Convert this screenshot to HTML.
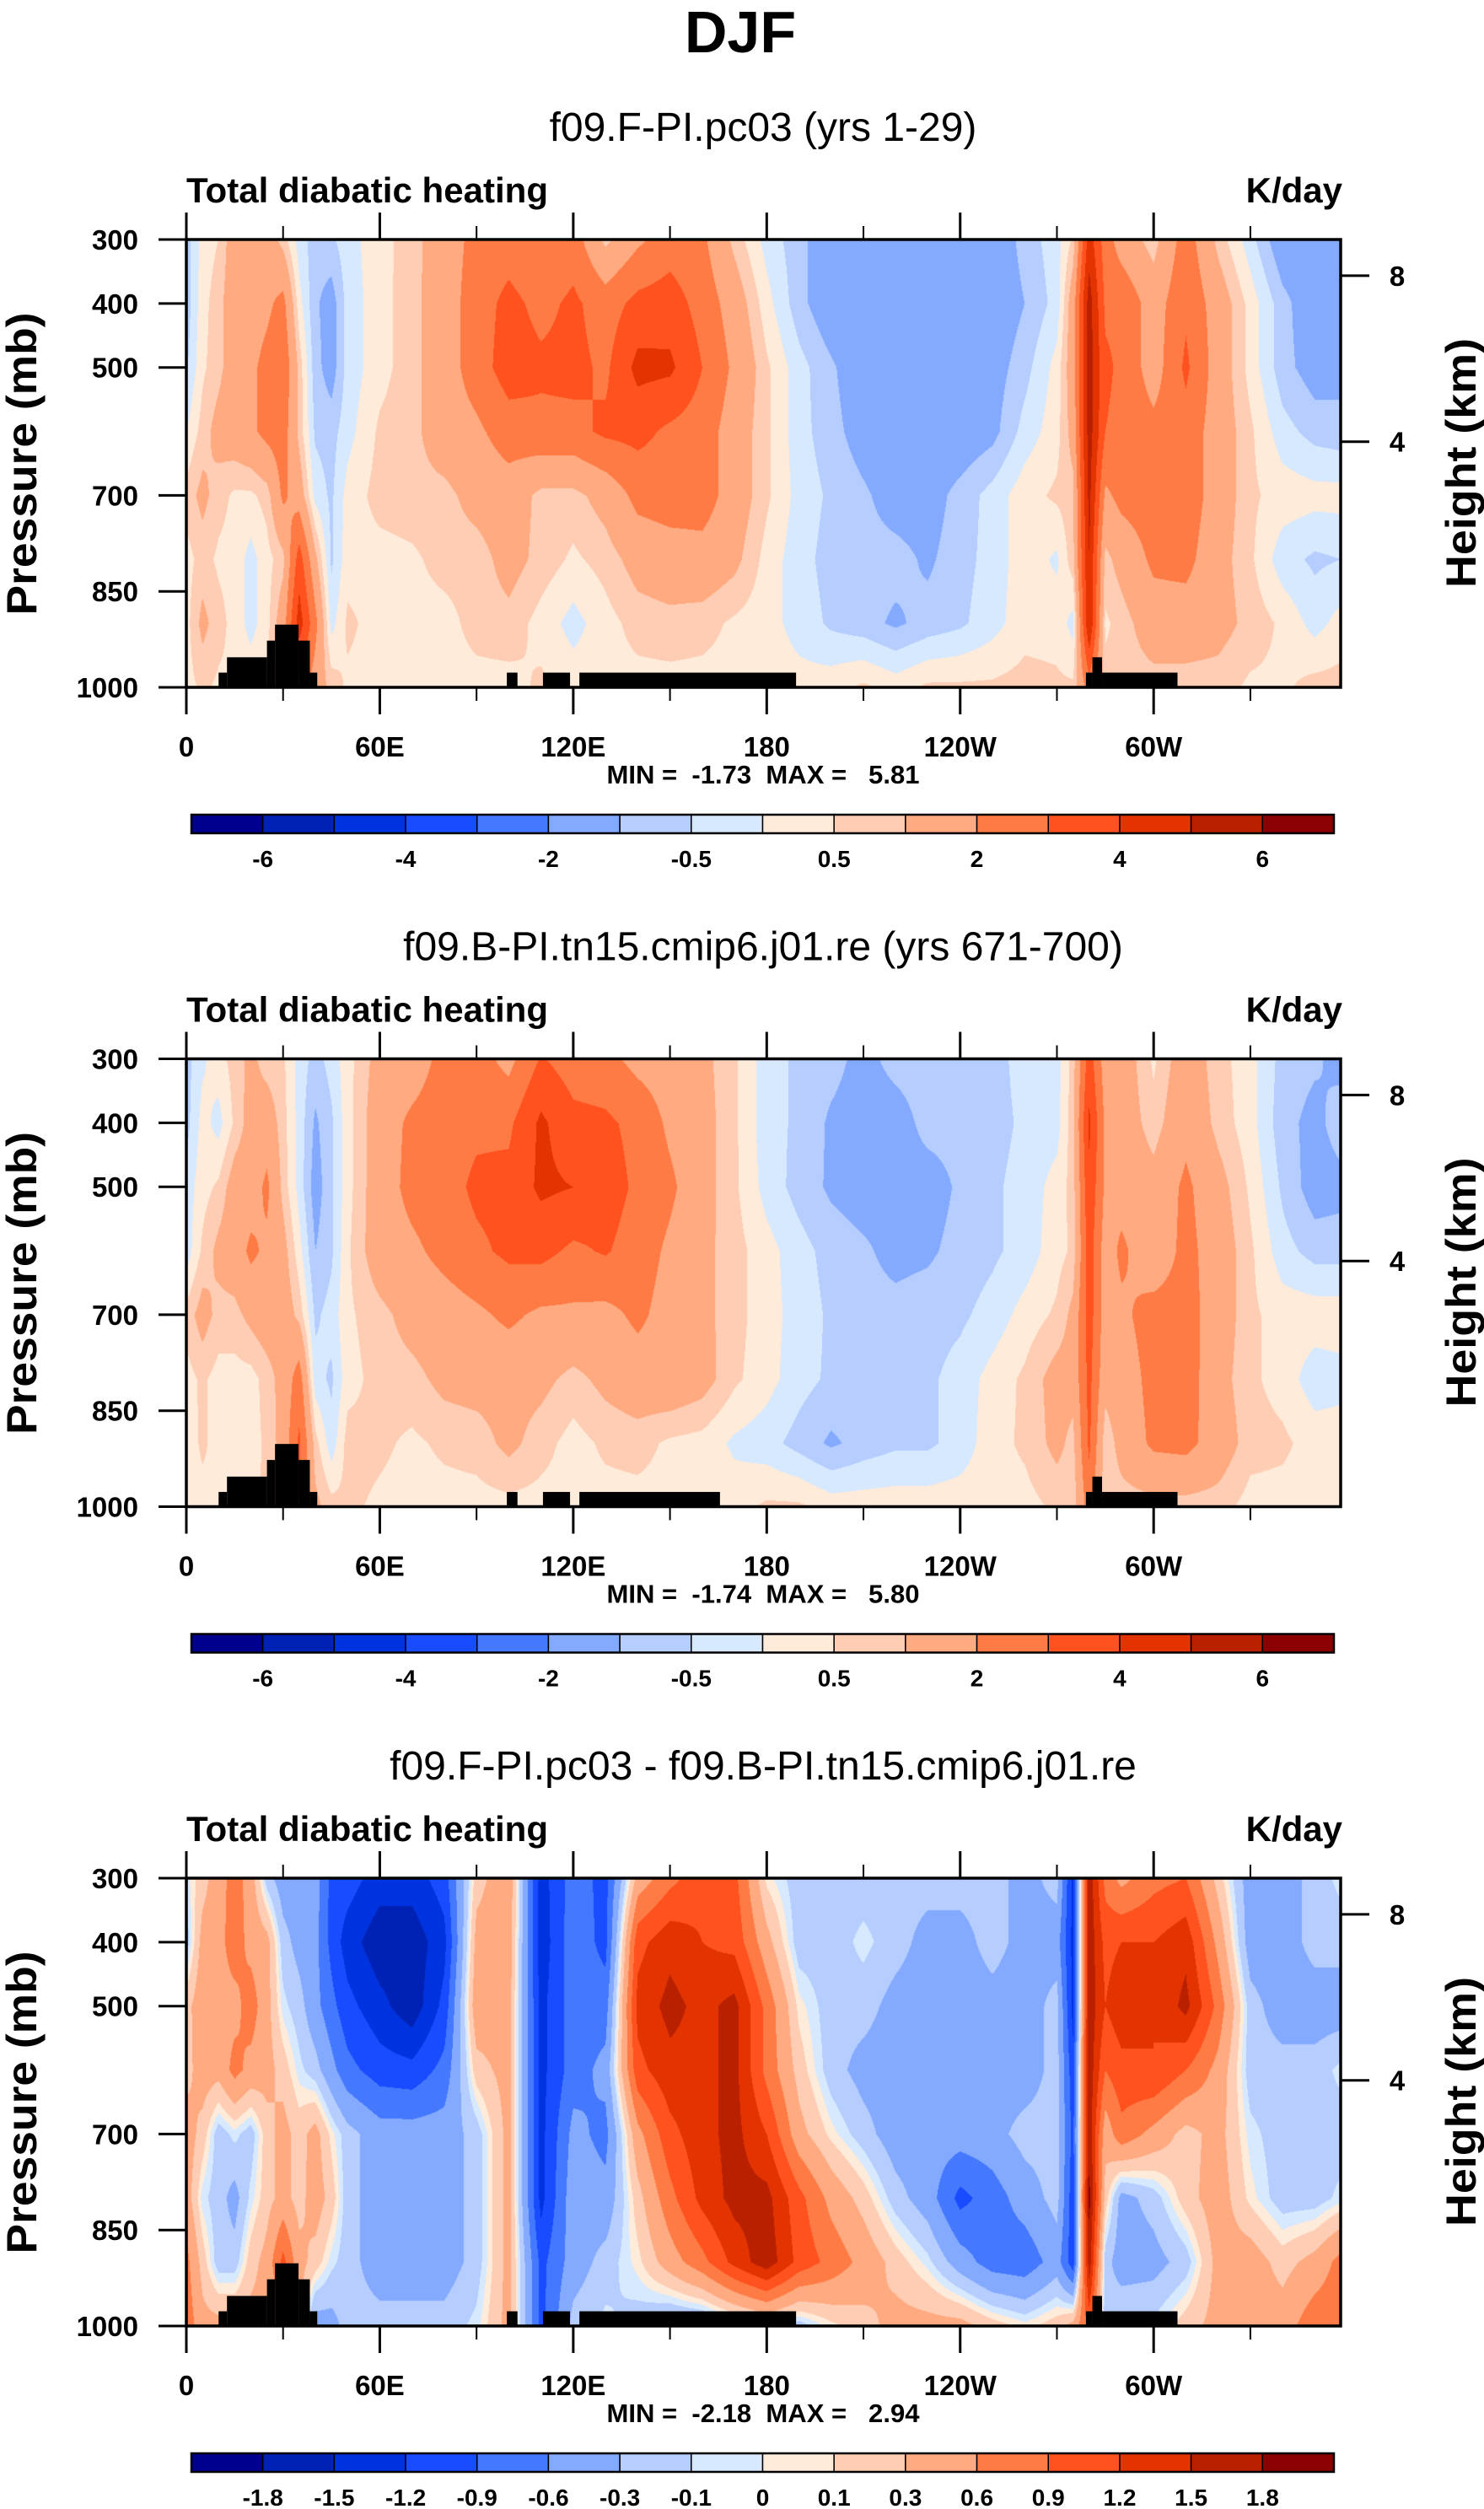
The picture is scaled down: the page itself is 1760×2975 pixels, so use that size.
<!DOCTYPE html>
<html><head><meta charset="utf-8"><title>DJF Total diabatic heating</title>
<style>
html,body{margin:0;padding:0;background:#fff;}
#page{position:relative;width:1760px;height:2975px;overflow:hidden;background:#fff;}
canvas{position:absolute;left:221px;}
svg{position:absolute;left:0;top:0;}
text{font-family:"Liberation Sans",Arial,sans-serif;}
</style></head>
<body>
<div id="page">
<canvas id="c0" width="1369" height="531" style="top:284px"></canvas>
<canvas id="c1" width="1369" height="531" style="top:1255.5px"></canvas>
<canvas id="c2" width="1369" height="531" style="top:2227px"></canvas>
<svg id="svg" width="1760" height="2975" viewBox="0 0 1760 2975">
<text x="878" y="62" text-anchor="middle" font-size="70" font-weight="bold">DJF</text>
</svg>
</div>
<script>
// ---- data ----
const lonNodes=[0,5,10,15,20,25,30,35,40,45,50,60,70,80,90,100,110,120,130,140,150,160,170,180,190,200,210,220,230,240,250,260,270,275,280,285,290,300,310,320,330,340,350,358];
const presNodes=[300,400,500,600,700,800,900,1000];
const fieldF=[
[-0.75,0.2,0.5,1.5,1.5,1.5,0.75,-0.25,-0.75,-0.6,-0.2, 0.3,0.75,1.5,2.3,2.5,2.0,2.5,0.8,1.8,2.5,2.2,0.8,-0.2, -0.8,-1.5,-1.5,-1.5,-1.5,-1.5,-1.5,-0.8,-0.2, 0.6,4.5,2.5,1.5,0.7,2.5,0.8,-0.3,-1.5,-1.5,-1.5],
[-0.8,0.3,0.8,1.5,1.5,1.8,2.3,0.2,-0.9,-1.3,-0.3, 0.3,0.8,1.5,2.5,3.3,2.7,3.2,2.5,3.3,3.5,2.6,1.5,0.2, -0.8,-1.5,-1.5,-1.5,-1.5,-1.5,-1.5,-1.0,-0.3, 1.5,5.5,2.8,2.8,1.5,2.8,1.5,0.3,-0.8,-1.5,-1.5],
[-0.6,0.4,0.8,1.5,1.8,2.3,2.8,0.8,-0.8,-1.3,-0.3, 0.3,0.8,1.5,2.5,3.5,3.2,3.3,2.8,4.3,4.2,3.0,1.8,0.6, -0.3,-0.9,-1.5,-1.5,-1.5,-1.5,-1.3,-0.7,0.2, 1.5,5.5,3.2,2.8,1.5,3.2,1.5,0.3,-0.8,-1.3,-1.2],
[0.0,0.7,1.3,1.5,1.8,2.3,2.5,0.8,-0.6,-0.7,-0.2, 0.6,0.8,1.5,1.8,2.5,2.7,2.7,3.2,3.3,2.8,2.5,1.5,0.6, -0.3,-0.8,-1.3,-1.5,-1.5,-1.5,-1.2,-0.3,0.3, 1.3,5.5,3.0,2.7,2.3,2.6,1.5,0.6,-0.3,-0.7,-0.8],
[0.7,1.2,0.7,0.4,0.4,0.7,2.2,1.5,-0.2,-0.6,0.2, 0.7,0.8,0.8,1.3,1.5,0.8,0.8,1.3,2.3,2.5,2.5,1.5,0.6, -0.2,-0.6,-0.9,-1.3,-1.3,-0.8,-0.3,0.3,0.6, 0.8,5.3,1.8,2.3,2.5,2.6,1.5,0.6,0.3,0.2,0.2],
[0.3,0.7,0.4,0.3,-0.2,0.3,0.8,3.5,1.2,-0.6,0.3, 0.3,0.4,0.7,0.7,1.3,0.8,0.4,0.7,1.3,1.5,1.6,1.2,0.3, -0.3,-0.7,-0.8,-0.8,-1.1,-0.7,-0.3,0.3,-0.1, 0.8,5.0,0.8,1.3,2.2,2.3,1.3,0.6,-0.3,-0.6,-0.5],
[0.3,1.2,0.7,0.3,-0.2,0.3,1.5,4.5,2.3,-0.2,0.6, 0.3,0.3,0.3,0.7,0.8,0.3,-0.2,0.3,0.7,0.8,0.7,0.4,0.2, -0.2,-0.6,-0.8,-1.1,-0.8,-0.6,-0.2,0.3,0.3, -0.2,5.0,0.4,0.7,1.5,1.5,1.3,0.8,0.4,-0.2,0.2],
[0.3,0.6,0.4,0.4,0.4,0.6,1.5,2.5,1.5,0.8,0.4, 0.3,0.3,0.3,0.3,0.3,0.6,0.3,0.3,0.3,0.3,0.3,0.3,0.3, 0.2,0.3,0.6,0.3,0.6,0.6,0.6,0.7,0.6, 0.6,2.5,0.7,0.7,0.7,0.7,0.7,0.4,0.4,0.7,0.7]
];
const fieldB=[
[-0.7,-0.1,0.3,0.7,1.2,0.7,0.6,-0.2,-0.7,-0.3,0.3, 1.3,1.5,2.3,2.4,1.7,3.1,2.5,2.3,1.7,1.5,1.2,0.6,-0.3, -0.6,-0.8,-1.2,-0.8,-0.7,-0.7,-0.7,-0.3,-0.2, 0.7,3.5,1.5,1.5,0.4,1.5,0.7,0.2,-0.7,-0.9,-1.2],
[-0.7,0.2,-0.2,0.6,1.3,1.5,0.7,-0.2,-1.1,-0.6,0.3, 1.5,2.2,2.5,2.8,2.8,4.2,3.3,3.2,2.7,1.8,1.3,0.6,-0.3, -0.6,-1.1,-1.3,-1.3,-0.8,-0.8,-0.7,-0.4,-0.2, 0.8,4.2,1.8,1.5,0.7,1.7,0.8,0.2,-0.8,-1.2,-0.7],
[-0.3,0.3,0.6,1.4,1.5,2.2,0.8,-0.2,-1.3,-0.6,0.3, 1.5,2.3,2.6,3.2,3.3,4.2,4.0,3.5,2.8,2.2,1.3,0.6,-0.2, -0.7,-1.1,-1.3,-1.2,-1.3,-0.9,-0.6,-0.3,0.2, 0.7,3.8,1.8,1.6,1.3,2.2,1.3,0.4,-0.6,-1.3,-1.2],
[-0.3,0.6,1.2,1.5,2.2,1.8,1.3,0.2,-1.0,-0.6,0.4, 1.5,1.8,2.3,2.8,3.2,3.3,2.8,3.1,2.5,1.8,1.2,0.7,0.2, -0.3,-0.7,-0.9,-1.2,-1.1,-0.8,-0.6,-0.3,0.3, 0.6,3.5,1.5,2.2,1.3,2.3,1.5,0.6,-0.3,-0.7,-0.7],
[0.7,1.3,0.8,0.8,1.2,1.5,1.5,0.8,-0.6,-0.3,0.4, 0.8,1.3,1.5,1.8,2.2,1.8,1.8,1.7,2.2,1.6,1.2,0.7,0.2, -0.2,-0.6,-0.8,-0.8,-0.7,-0.6,-0.3,0.2,0.6, 1.2,3.5,1.5,1.8,2.4,2.4,1.5,0.6,0.3,0.3,0.3],
[0.3,0.6,0.3,0.3,0.3,0.7,1.3,2.5,-0.3,-0.6,0.3, 0.7,0.8,1.2,1.3,1.3,1.2,0.8,1.2,1.5,1.6,1.3,0.6,0.2, -0.3,-0.6,-0.6,-0.7,-0.6,-0.3,0.2,0.6,1.3, 1.3,3.3,1.3,1.5,2.3,2.5,1.3,0.6,0.3,-0.3,-0.2],
[0.2,0.6,0.3,0.3,0.3,0.6,1.3,3.2,0.7,-0.3,0.7, 0.6,0.4,0.6,0.7,1.2,0.7,0.3,0.6,0.7,0.4,0.3,-0.1,-0.3, -0.7,-1.1,-0.8,-0.6,-0.6,-0.3,0.3,0.6,1.2, 0.8,3.2,0.6,1.3,2.2,2.3,1.5,0.7,0.6,0.3,0.3],
[0.3,0.3,0.4,0.4,0.4,0.6,1.5,3.0,1.2,0.7,0.6, 0.4,0.3,0.3,0.3,0.3,0.3,0.3,0.3,0.3,0.3,0.3,0.3,0.6, 0.6,0.3,0.3,0.3,0.3,0.3,0.3,0.3,0.6, 0.6,2.5,0.6,0.7,0.7,0.7,0.7,0.3,0.3,0.3,0.3]
];
const fieldDiff=[
[-0.05,0.2,0.45,0.75,0.45,-0.2,-0.45,-0.45,-0.45,-1.0,-1.05, -1.35,-1.35,-1.05,0.2,0.5,-1.35,-0.75,-1.0,0.4,0.8,1.1,1.0,0.05, -0.2,-0.2,-0.2,-0.2,-0.2,-0.2,-0.2,-0.4,-0.2, -1.3,1.7,0.8,0.5,0.8,0.9,0.2,-0.45,-0.45,-0.2,-0.05],
[-0.2,0.4,0.5,0.75,0.5,0.4,-0.2,-0.4,-0.5,-1.0,-1.35, -1.7,-1.7,-1.3,0.4,0.5,-1.4,-0.7,-1.0,1.1,1.4,1.2,1.1,0.4, -0.2,-0.2,-0.05,-0.2,-0.4,-0.4,-0.2,-0.4,-0.45, -1.3,1.7,1.1,1.2,1.2,1.4,0.5,-0.45,-0.45,-0.2,-0.2],
[0.2,0.5,0.5,0.5,0.75,0.4,-0.05,-0.2,-0.5,-0.8,-1.1, -1.4,-1.7,-1.1,0.5,0.4,-1.3,-0.75,-0.75,1.3,1.6,1.4,1.6,0.8, 0.05,-0.2,-0.2,-0.4,-0.45,-0.45,-0.4,-0.45,-0.2, -1.3,1.7,1.2,1.4,1.2,1.6,0.8,-0.2,-0.45,-0.45,-0.45],
[0.2,0.45,0.4,0.7,0.5,0.4,0.2,-0.05,-0.2,-0.5,-0.8, -1.05,-1.1,-0.8,0.2,0.4,-1.3,-0.75,-0.5,1.1,1.4,1.4,1.6,0.8, 0.2,-0.2,-0.4,-0.45,-0.45,-0.45,-0.45,-0.45,-0.2, -1.1,1.7,0.9,1.1,1.2,0.9,0.5,-0.2,-0.2,-0.2,-0.05],
[0.45,0.2,-0.2,-0.05,-0.2,0.2,0.4,0.2,0.4,0.05,-0.2, -0.45,-0.45,-0.45,-0.2,0.4,-1.3,-0.5,-0.7,0.5,1.1,1.4,1.6,1.2, 0.4,0.05,-0.2,-0.45,-0.45,-0.45,-0.4,-0.2,-0.2, -1.0,1.7,0.4,0.8,0.5,0.2,0.4,-0.05,-0.2,-0.2,-0.2],
[0.45,-0.05,-0.2,-0.4,-0.05,0.2,0.4,0.2,0.45,0.2,-0.2, -0.45,-0.45,-0.45,-0.2,0.4,-1.3,-0.4,-0.5,0.2,0.8,1.3,1.6,1.6, 1.0,0.5,0.2,-0.2,-0.45,-1.0,-0.75,-0.45,-0.2, -1.1,1.9,0.2,-0.4,-0.2,0.2,0.45,0.05,-0.2,-0.2,-0.05],
[0.7,0.2,-0.2,-0.2,0.2,0.4,1.0,0.4,0.2,-0.05,-0.2, -0.45,-0.45,-0.45,-0.2,0.4,-1.0,-0.45,-0.2,0.05,0.45,0.8,1.3,1.7, 1.1,0.8,0.5,0.2,-0.05,-0.45,-0.75,-0.8,-0.45, -1.1,1.7,-0.2,-0.45,-0.4,-0.2,0.4,0.45,0.2,0.4,0.7],
[0.8,0.4,0.4,0.4,0.4,0.4,0.4,0.4,-0.45,-0.4,-0.2, -0.2,-0.2,-0.2,-0.05,0.4,-1.0,-0.2,-0.05,-0.2,-0.4,-0.4,-0.2,-0.05, -0.2,0.05,0.2,0.4,0.4,0.4,0.2,0.05,0.2, 0.4,1.0,-0.2,-0.05,-0.05,0.2,0.4,0.45,0.45,0.8,0.8]
];
const levelsAbs=[-6,-5,-4,-3,-2,-1,-0.5,0,0.5,1,2,3,4,5,6];
const levelsDiff=[-1.8,-1.5,-1.2,-0.9,-0.6,-0.3,-0.1,0,0.1,0.3,0.6,0.9,1.2,1.5,1.8];
const labelsAbs=['-6','-4','-2','-0.5','0.5','2','4','6'];
const labelsDiff=['-1.8','-1.5','-1.2','-0.9','-0.6','-0.3','-0.1','0','0.1','0.3','0.6','0.9','1.2','1.5','1.8'];
const palette=['#00008f','#0022b4','#0033e0','#1a4cff','#4479ff','#84aaff','#b5cdff','#d6e9ff','#ffebda','#ffcdb4','#ffaa80','#ff7b45','#ff521e','#e33300','#b92000','#8b0000'];
const lonTicks=[0,60,120,180,240,300];
const lonTickLabels=['0','60E','120E','180','120W','60W'];
const lonMinor=[30,90,150,210,270,330];
const presTicks=[300,400,500,700,850,1000];
const heightKm=[8,4];
const heightPres=[356.5,616];
const titles=['f09.F-PI.pc03 (yrs 1-29)','f09.B-PI.tn15.cmip6.j01.re (yrs 671-700)','f09.F-PI.pc03 - f09.B-PI.tn15.cmip6.j01.re'];
const minMax=['MIN =  -1.73  MAX =   5.81','MIN =  -1.74  MAX =   5.80','MIN =  -2.18  MAX =   2.94'];
// topography blocks: lon start, lon end, top pressure
const terrainLon0=[10,12.6,25,27.5,34.8,38.3,99.4,110.6,121.9,279,281,284];
const terrainLon1=[12.6,25,27.5,34.8,38.3,40.6,102.7,119,189.1,281,284,307.4];
const terrainTop=[977,953,927,902,927,977,977,977,977,977,953,977];
const panel2BlockEnd=165.5;

// ---- geometry ----
const panelTops=[284,1255.5,2227];
const PX0=221,PW=1369,PH=531,LONMAX=358;
function xOf(lon){return PX0+lon/LONMAX*PW;}
function yOf(p,T){return T+(p-300)/700*PH;}
const NS='http://www.w3.org/2000/svg';
const svg=document.getElementById('svg');
function mk(tag,attrs,txt){const e=document.createElementNS(NS,tag);for(const k in attrs)e.setAttribute(k,attrs[k]);if(txt!==undefined)e.textContent=txt;svg.appendChild(e);return e;}

function band(v,levels){let i=0;while(i<levels.length&&v>=levels[i])i++;return i;}
function hex(c){return [parseInt(c.substr(1,2),16),parseInt(c.substr(3,2),16),parseInt(c.substr(5,2),16)];}
const palRGB=palette.map(hex);

function drawField(cid,field,levels){
  const cv=document.getElementById(cid),ctx=cv.getContext('2d');
  const img=ctx.createImageData(PW,PH);const d=img.data;
  const ci=[],ct=[];
  for(let x=0;x<PW;x++){const lon=(x+0.5)/PW*LONMAX;let j=0;while(j<lonNodes.length-2&&lon>lonNodes[j+1])j++;
    ci.push(j);ct.push(Math.min(1,Math.max(0,(lon-lonNodes[j])/(lonNodes[j+1]-lonNodes[j]))));}
  for(let y=0;y<PH;y++){const p=300+(y+0.5)/PH*700;let r=0;while(r<presNodes.length-2&&p>presNodes[r+1])r++;
    const rt=(p-presNodes[r])/(presNodes[r+1]-presNodes[r]);const A=field[r],B=field[r+1];
    for(let x=0;x<PW;x++){const j=ci[x],t=ct[x];
      const v0=A[j]+(A[j+1]-A[j])*t,v1=B[j]+(B[j+1]-B[j])*t;const v=v0+(v1-v0)*rt;
      const c=palRGB[band(v,levels)];const k=(y*PW+x)*4;d[k]=c[0];d[k+1]=c[1];d[k+2]=c[2];d[k+3]=255;}}
  ctx.putImageData(img,0,0);
}
drawField('c0',fieldF,levelsAbs);
drawField('c1',fieldB,levelsAbs);
drawField('c2',fieldDiff,levelsDiff);

for(let k=0;k<3;k++){
  const T=panelTops[k];
  let e;
  e=mk('text',{x:905,y:T-117,'text-anchor':'middle','font-size':48},titles[k]);
  
  
  e=mk('text',{x:221,y:T-44,'font-size':42,'font-weight':'bold',textLength:429,lengthAdjust:'spacingAndGlyphs'},'Total diabatic heating');
  
  
  e=mk('text',{x:1592,y:T-44,'text-anchor':'end','font-size':42,'font-weight':'bold'},'K/day');
  
  
  // topography
  for(let i=0;i<terrainLon0.length;i++){
    let l1=terrainLon1[i];if(k===1&&i===8)l1=panel2BlockEnd;
    const x0=xOf(terrainLon0[i]),x1=xOf(l1),y0=yOf(terrainTop[i],T);
    e=mk('rect',{x:x0,y:y0,width:x1-x0,height:T+PH-y0,fill:'#000'});
    
    
  }
  // frame
  e=mk('rect',{x:PX0,y:T,width:PW,height:PH,fill:'none',stroke:'#000','stroke-width':3.5});
  
  
  // lon ticks
  for(let i=0;i<lonTicks.length;i++){const x=xOf(lonTicks[i]);
    e=mk('line',{x1:x,x2:x,y1:T,y2:T-32,stroke:'#000','stroke-width':3});
    
    
    e=mk('line',{x1:x,x2:x,y1:T+PH,y2:T+PH+32,stroke:'#000','stroke-width':3});
    
    
    e=mk('text',{x:x,y:T+613,'text-anchor':'middle','font-size':33,'font-weight':'bold'},lonTickLabels[i]);
    
    }
  for(let i=0;i<lonMinor.length;i++){const x=xOf(lonMinor[i]);
    e=mk('line',{x1:x,x2:x,y1:T,y2:T-16,stroke:'#000','stroke-width':2});
    
    
    e=mk('line',{x1:x,x2:x,y1:T+PH,y2:T+PH+16,stroke:'#000','stroke-width':2});
    
    }
  // pressure ticks
  for(let i=0;i<presTicks.length;i++){const y=yOf(presTicks[i],T);
    e=mk('line',{x1:PX0-33,x2:PX0,y1:y,y2:y,stroke:'#000','stroke-width':3});
    
    
    e=mk('text',{x:164,y:y+12,'text-anchor':'end','font-size':33,'font-weight':'bold'},String(presTicks[i]));
    
    }
  for(let i=0;i<heightKm.length;i++){const y=yOf(heightPres[i],T);
    e=mk('line',{x1:PX0+PW,x2:PX0+PW+34,y1:y,y2:y,stroke:'#000','stroke-width':3});
    
    
    e=mk('text',{x:1657,y:y+12,'text-anchor':'middle','font-size':33,'font-weight':'bold'},String(heightKm[i]));
    
    }
  e=mk('text',{x:0,y:0,transform:'translate(43,'+(T+266)+') rotate(-90)','text-anchor':'middle','font-size':50,'font-weight':'bold',textLength:359,lengthAdjust:'spacingAndGlyphs'},'Pressure (mb)');
  
  
  e=mk('text',{x:0,y:0,transform:'translate(1750,'+(T+265)+') rotate(-90)','text-anchor':'middle','font-size':50,'font-weight':'bold',textLength:296,lengthAdjust:'spacingAndGlyphs'},'Height (km)');
  
  
  e=mk('text',{x:905,y:T+645,'text-anchor':'middle','font-size':31,'font-weight':'bold','xml:space':'preserve',textLength:371,lengthAdjust:'spacingAndGlyphs',style:'white-space:pre'},minMax[k]);
  
  
  // colorbar
  const cbX0=227,cbX1=1582,cbY=T+682,cbH=22,bw=(cbX1-cbX0)/16;
  for(let i=0;i<16;i++){
    e=mk('rect',{x:cbX0+i*bw,y:cbY,width:bw,height:cbH,fill:palette[i],stroke:'#000','stroke-width':1.5});
    
    }
  e=mk('rect',{x:cbX0,y:cbY,width:cbX1-cbX0,height:cbH,fill:'none',stroke:'#000','stroke-width':2.5});
  
  
  const labs=k<2?labelsAbs:labelsDiff;
  for(let i=0;i<labs.length;i++){
    const bi=k<2?(1+2*i):(1+i);
    e=mk('text',{x:cbX0+bi*bw,y:T+744,'text-anchor':'middle','font-size':28,'font-weight':'bold'},labs[i]);
    
    }
}
</script>
</body></html>
